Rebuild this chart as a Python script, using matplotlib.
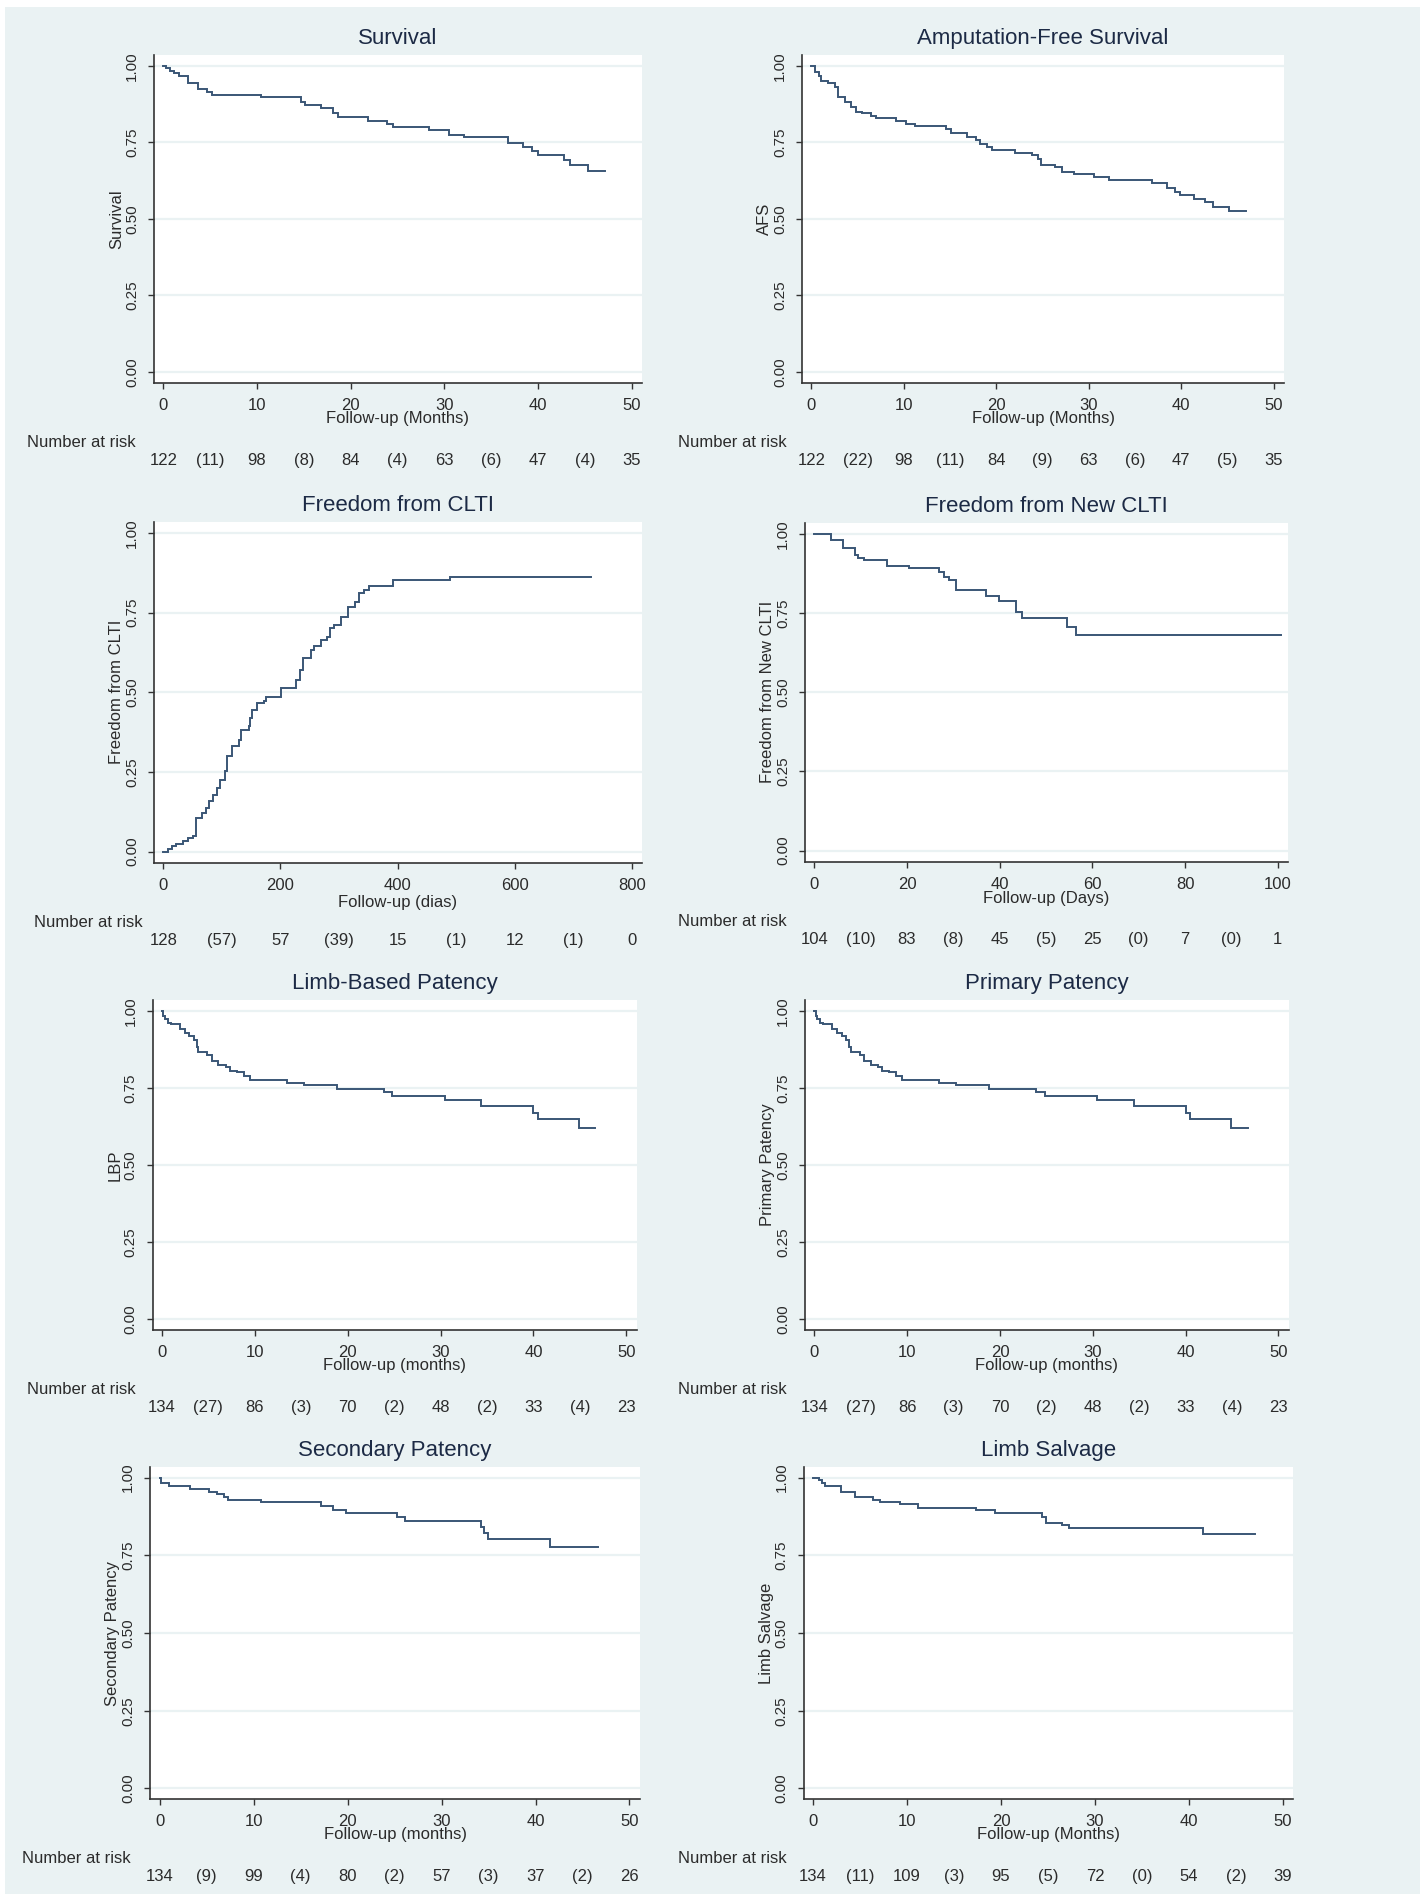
import matplotlib
matplotlib.use('Agg')
import matplotlib.pyplot as plt
from matplotlib.patches import Rectangle
from matplotlib.transforms import blended_transform_factory

plt.rcParams['font.family'] = ['Liberation Sans', 'DejaVu Sans']

# ---------------- data ----------------
surv_t = [0, 0.3, 0.7, 1.1, 1.7, 2.6, 3.7, 4.7, 5.2, 10.4, 14.7, 15.1, 16.8, 18.1, 18.6, 21.8, 23.9, 24.5,
          28.4, 30.5, 32.1, 36.8, 38.4, 39.4, 40.0, 42.8, 43.4, 45.3, 47.1]
surv_s = [1.0, 0.992, 0.984, 0.975, 0.967, 0.942, 0.925, 0.915, 0.904, 0.897, 0.882, 0.872, 0.861, 0.844, 0.834,
          0.820, 0.810, 0.801, 0.790, 0.774, 0.766, 0.749, 0.736, 0.723, 0.708, 0.692, 0.676, 0.657, 0.657]
surv_risk = ['122', '(11)', '98', '(8)', '84', '(4)', '63', '(6)', '47', '(4)', '35']

afs_t = [0, 0.44, 0.84, 1.08, 1.8, 2.56, 2.9, 3.7, 4.3, 4.8, 5.5, 6.5, 7.0, 9.2, 10.2, 11.2, 14.6, 15.1, 16.8,
         17.8, 18.2, 19.0, 19.5, 22.0, 23.9, 24.5, 24.8, 26.4, 27.1, 28.4, 30.6, 32.2, 36.8, 38.4, 39.3, 39.9,
         41.4, 42.6, 43.4, 45.2, 47.0]
afs_s = [1.0, 0.98, 0.966, 0.951, 0.942, 0.929, 0.899, 0.882, 0.866, 0.85, 0.844, 0.836, 0.828, 0.82, 0.81,
         0.803, 0.795, 0.781, 0.768, 0.757, 0.744, 0.733, 0.725, 0.716, 0.708, 0.694, 0.676, 0.668, 0.654, 0.646,
         0.638, 0.627, 0.616, 0.600, 0.589, 0.578, 0.564, 0.556, 0.540, 0.527, 0.527]
afs_risk = ['122', '(22)', '98', '(11)', '84', '(9)', '63', '(6)', '47', '(5)', '35']

clti_t = [0, 8, 14, 22, 33, 42, 51, 56, 66, 72, 78, 84, 92, 97, 105, 109, 117, 129, 133, 146, 148, 152, 160,
          172, 176, 201, 226, 234, 238, 253, 257, 269, 279, 285, 292, 304, 316, 327, 334, 343, 351, 392, 490, 730]
clti_s = [0.0, 0.008, 0.017, 0.024, 0.032, 0.043, 0.05, 0.105, 0.121, 0.137, 0.158, 0.178, 0.199, 0.225, 0.252,
          0.299, 0.33, 0.351, 0.382, 0.393, 0.419, 0.445, 0.466, 0.471, 0.486, 0.513, 0.539, 0.57, 0.607, 0.633,
          0.646, 0.664, 0.674, 0.70, 0.711, 0.737, 0.766, 0.784, 0.81, 0.82, 0.833, 0.852, 0.862, 0.862]
clti_risk = ['128', '(57)', '57', '(39)', '15', '(1)', '12', '(1)', '0']

new_t = [0, 3.6, 6.3, 8.7, 9.5, 10.7, 15.6, 20.4, 27, 28, 29, 30.5, 37, 39.9, 43.6, 44.9, 54.5, 56.4, 100.6]
new_s = [1.0, 0.981, 0.955, 0.934, 0.923, 0.916, 0.899, 0.892, 0.878, 0.865, 0.854, 0.823, 0.805, 0.789, 0.754,
         0.735, 0.707, 0.680, 0.680]
new_risk = ['104', '(10)', '83', '(8)', '45', '(5)', '25', '(0)', '7', '(0)', '1']

lbp_t = [0, 0.15, 0.34, 0.64, 0.98, 1.96, 2.45, 2.94, 3.43, 3.77, 3.92, 4.9, 5.4, 6.1, 6.9, 7.3, 8.1, 8.8, 9.5,
         13.5, 15.3, 18.9, 23.9, 24.8, 30.5, 34.4, 40.0, 40.5, 44.9, 46.6]
lbp_s = [1.0, 0.982, 0.973, 0.962, 0.956, 0.940, 0.927, 0.917, 0.906, 0.884, 0.867, 0.856, 0.838, 0.825, 0.817,
         0.805, 0.80, 0.789, 0.776, 0.767, 0.758, 0.748, 0.737, 0.724, 0.711, 0.691, 0.667, 0.648, 0.621, 0.621]
lbp_risk = ['134', '(27)', '86', '(3)', '70', '(2)', '48', '(2)', '33', '(4)', '23']

prim_t = [0, 0.15, 0.34, 0.64, 0.98, 1.96, 2.45, 2.94, 3.43, 3.77, 3.92, 4.9, 5.4, 6.1, 6.9, 7.3, 8.1, 8.8, 9.5,
          13.4, 15.3, 18.8, 23.9, 24.9, 30.5, 34.4, 40.0, 40.5, 44.9, 46.7]
prim_s = [1.0, 0.982, 0.973, 0.962, 0.956, 0.940, 0.927, 0.917, 0.906, 0.884, 0.867, 0.856, 0.838, 0.825, 0.817,
          0.805, 0.80, 0.789, 0.776, 0.767, 0.758, 0.748, 0.737, 0.724, 0.711, 0.691, 0.667, 0.648, 0.621, 0.621]
prim_risk = ['134', '(27)', '86', '(3)', '70', '(2)', '48', '(2)', '33', '(4)', '23']

sec_t = [0, 0.15, 1.0, 3.2, 5.3, 6.1, 6.8, 7.3, 10.8, 17.2, 18.4, 19.8, 25.3, 26.1, 34.2, 34.5, 34.9, 41.5, 46.7]
sec_s = [1.0, 0.982, 0.973, 0.964, 0.955, 0.947, 0.939, 0.928, 0.920, 0.907, 0.896, 0.887, 0.872, 0.861, 0.840,
         0.823, 0.803, 0.778, 0.778]
sec_risk = ['134', '(9)', '99', '(4)', '80', '(2)', '57', '(3)', '37', '(2)', '26']

ls_t = [0, 0.58, 0.97, 1.3, 3.0, 4.5, 6.4, 7.1, 9.2, 11.2, 17.3, 19.4, 24.4, 24.8, 26.5, 27.2, 41.5, 47.0]
ls_s = [1.0, 0.992, 0.982, 0.973, 0.955, 0.937, 0.928, 0.923, 0.914, 0.903, 0.896, 0.887, 0.874, 0.855, 0.848,
        0.837, 0.818, 0.818]
ls_risk = ['134', '(11)', '109', '(3)', '95', '(5)', '72', '(0)', '54', '(2)', '39']

y_ticks = [0.0, 0.25, 0.5, 0.75, 1.0]
y_ticklabels = ['0.00', '0.25', '0.50', '0.75', '1.00']

panels = [
    dict(title='Survival', ylabel='Survival', xlabel='Follow-up (Months)', t=surv_t, s=surv_s,
         xmax=50, xstep=10, risk=surv_risk, rect=(154, 55, 642, 382.7), xl_off=34, nar_x=27),
    dict(title='Amputation-Free Survival', ylabel='AFS', xlabel='Follow-up (Months)', t=afs_t, s=afs_s,
         xmax=50, xstep=10, risk=afs_risk, rect=(802, 55, 1284, 382.7), xl_off=34, nar_x=678),
    dict(title='Freedom from CLTI', ylabel='Freedom from CLTI', xlabel='Follow-up (dias)', t=clti_t, s=clti_s,
         xmax=800, xstep=200, risk=clti_risk, rect=(154, 521.7, 642, 862.7), xl_off=38, nar_x=34),
    dict(title='Freedom from New CLTI', ylabel='Freedom from New CLTI', xlabel='Follow-up (Days)', t=new_t, s=new_s,
         xmax=100, xstep=20, risk=new_risk, rect=(805, 522.7, 1288, 861.7), xl_off=35, nar_x=678),
    dict(title='Limb-Based Patency', ylabel='LBP', xlabel='Follow-up (months)', t=lbp_t, s=lbp_s,
         xmax=50, xstep=10, risk=lbp_risk, rect=(152.5, 1000, 636.6, 1330), xl_off=34, nar_x=27),
    dict(title='Primary Patency', ylabel='Primary Patency', xlabel='Follow-up (months)', t=prim_t, s=prim_s,
         xmax=50, xstep=10, risk=prim_risk, rect=(805, 1000, 1288.7, 1330), xl_off=34, nar_x=678),
    dict(title='Secondary Patency', ylabel='Secondary Patency', xlabel='Follow-up (months)', t=sec_t, s=sec_s,
         xmax=50, xstep=10, risk=sec_risk, rect=(150.3, 1466.7, 639.8, 1799.3), xl_off=34, nar_x=22),
    dict(title='Limb Salvage', ylabel='Limb Salvage', xlabel='Follow-up (Months)', t=ls_t, s=ls_s,
         xmax=50, xstep=10, risk=ls_risk, rect=(803.7, 1466.7, 1293.2, 1799.3), xl_off=34, nar_x=678),
]

# ---------------- figure ----------------
W, H = 1428, 1894
fig = plt.figure(figsize=(W / 100, H / 100), dpi=100)
fig.patch.set_facecolor('white')
BG = '#EAF2F3'
fig.add_artist(Rectangle((5 / W, 0), (1420 - 5) / W, (H - 7) / H, transform=fig.transFigure,
                         facecolor=BG, edgecolor='none', zorder=-10))

LINE = '#3A5676'
TXT = '#2b2b2b'
TITLE_C = '#1c2a45'


def fx(px):
    return px / W


def fy(py):
    return 1 - py / H


for p in panels:
    l, t, r, b = p['rect']
    ax = fig.add_axes([fx(l), fy(b), (r - l) / W, (b - t) / H])
    ax.set_facecolor('white')
    xmax = p['xmax']
    ax.step(p['t'], p['s'], where='post', color=LINE, lw=1.4, solid_joinstyle='miter')
    ax.set_xlim(-0.02 * xmax, 1.022 * xmax)
    ax.set_ylim(-0.035, 1.035)
    xt = list(range(0, xmax + 1, p['xstep']))
    ax.set_xticks(xt)
    ax.set_xticklabels([str(v) for v in xt])
    ax.set_yticks(y_ticks)
    ax.set_yticklabels(y_ticklabels, rotation=90, va='center')
    ax.yaxis.grid(True, color=BG, lw=1.6)
    ax.set_axisbelow(True)
    for sp in ('top', 'right'):
        ax.spines[sp].set_visible(False)
    for sp in ('left', 'bottom'):
        ax.spines[sp].set_color('#333333')
        ax.spines[sp].set_linewidth(1.2)
    ax.tick_params(axis='x', direction='out', length=4.2, width=1.0, color='#333333',
                   labelsize=12, labelcolor=TXT, pad=6.5)
    ax.tick_params(axis='y', direction='out', length=4.3, width=1.0, color='#333333',
                   labelsize=11, labelcolor=TXT, pad=6.5)

    cx = (l + r) / 2
    cy = (t + b) / 2
    fig.text(fx(cx), fy(t - 16.5), p['title'], ha='center', va='center', fontsize=16, color=TITLE_C)
    fig.text(fx(l - 37.5), fy(cy), p['ylabel'], ha='center', va='center', rotation=90, fontsize=12, color=TXT)
    fig.text(fx(cx), fy(b + p['xl_off'] + 1.5), p['xlabel'], ha='center', va='center', fontsize=12, color=TXT)
    fig.text(fx(p['nar_x']), fy(b + 59.5), 'Number at risk', ha='left', va='center', fontsize=12, color=TXT)

    tr = blended_transform_factory(ax.transData, fig.transFigure)
    n = len(p['risk'])
    step = xmax / (n - 1)
    for i, lab in enumerate(p['risk']):
        ax.text(i * step, fy(b + 77.5), lab, transform=tr, ha='center', va='center', fontsize=12,
                color=TXT, clip_on=False)

fig.savefig('out.png', dpi=100, facecolor=fig.get_facecolor())
